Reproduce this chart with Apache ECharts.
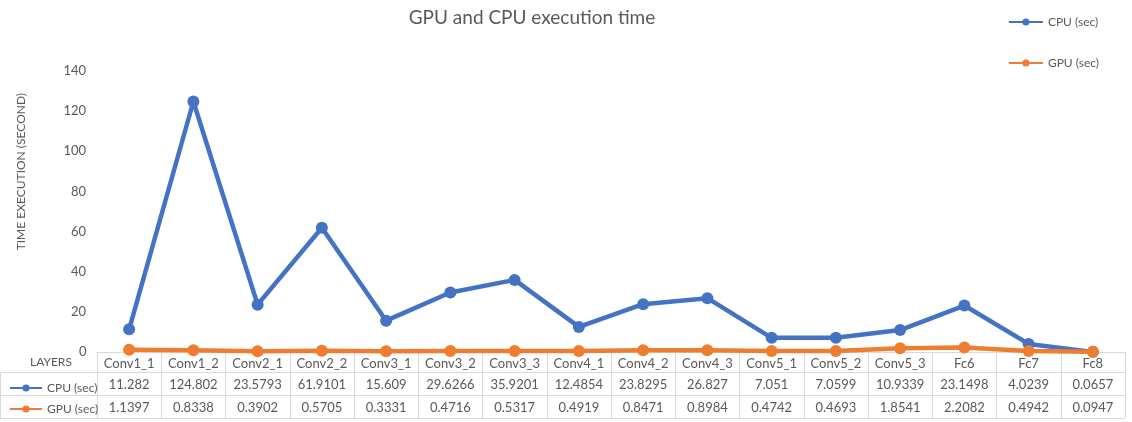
<!DOCTYPE html>
<html>
<head>
<meta charset="utf-8">
<script src="https://cdn.jsdelivr.net/npm/echarts@6/dist/echarts.min.js"></script>
<style>
  html, body { margin: 0; padding: 0; background: #fff; }
  #main { width: 1132px; height: 422px; }
</style>
</head>
<body>
<div id="main"></div>
<script>
// data
var layers = ['Conv1_1', 'Conv1_2', 'Conv2_1', 'Conv2_2', 'Conv3_1', 'Conv3_2', 'Conv3_3', 'Conv4_1', 'Conv4_2',
    'Conv4_3', 'Conv5_1', 'Conv5_2', 'Conv5_3', 'Fc6', 'Fc7', 'Fc8'];
var cpuSec = [11.282, 124.802, 23.5793, 61.9101, 15.609, 29.6266, 35.9201, 12.4854, 23.8295,
    26.827, 7.051, 7.0599, 10.9339, 23.1498, 4.0239, 0.0657];
var gpuSec = [1.1397, 0.8338, 0.3902, 0.5705, 0.3331, 0.4716, 0.5317, 0.4919, 0.8471,
    0.8984, 0.4742, 0.4693, 1.8541, 2.2082, 0.4942, 0.0947];
var yTicks = [0, 20, 40, 60, 80, 100, 120, 140];

var FONT = 'Lato';
var TXT = '#595959';
var BORDER = '#d9d9d9';
var CPU_COLOR = '#4472c4';
var GPU_COLOR = '#ed7d31';

var chart = echarts.init(document.getElementById('main'));

function tableAxis(data, offset, showTicks) {
    return {
        type: 'category',
        data: data,
        position: 'bottom',
        offset: offset,
        boundaryGap: true,
        axisLine: { show: offset === 0, lineStyle: { color: BORDER, width: 1 } },
        axisTick: { show: showTicks, length: 66, lineStyle: { color: BORDER } },
        axisLabel: { color: TXT, fontFamily: FONT, fontSize: 13, margin: 5, interval: 0 },
        splitLine: { show: false }
    };
}

var option = {
    backgroundColor: '#fff',
    textStyle: { fontFamily: FONT },
    title: {
        text: 'GPU and CPU execution time',
        left: 527,
        textAlign: 'center',
        top: 3,
        textStyle: { color: TXT, fontFamily: FONT, fontSize: 19, fontWeight: 'normal' }
    },
    legend: [{
        orient: 'vertical',
        right: 28,
        top: 11,
        itemGap: 29,
        itemWidth: 34,
        itemHeight: 9,
        textStyle: { color: TXT, fontFamily: FONT, fontSize: 12 },
        data: ['CPU (sec)', 'GPU (sec)']
    }, {
        orient: 'vertical',
        left: 4,
        top: 377,
        itemGap: 9,
        itemWidth: 32,
        itemHeight: 9,
        selectedMode: false,
        textStyle: { color: TXT, fontFamily: FONT, fontSize: 12 },
        data: ['CPU (sec)', 'GPU (sec)']
    }],
    grid: { left: 97, right: 7, top: 71, bottom: 70, containLabel: false },
    xAxis: [
        tableAxis(layers, 0, true),
        tableAxis(cpuSec.map(String), 21, false),
        tableAxis(gpuSec.map(String), 44, false)
    ],
    yAxis: {
        type: 'value',
        min: yTicks[0],
        max: yTicks[yTicks.length - 1],
        interval: yTicks[1] - yTicks[0],
        axisLine: { show: false },
        axisTick: { show: false },
        splitLine: { show: false },
        axisLabel: { color: TXT, fontFamily: FONT, fontSize: 13, margin: 11, showMinLabel: false }
    },
    graphic: [
        { type: 'text', left: 15, top: 93, rotation: Math.PI / 2,
          style: { text: 'TIME EXECUTION (SECOND)', fill: TXT, font: '12px ' + FONT } },
        { type: 'text', left: 30, top: 356, style: { text: 'LAYERS', fill: TXT, font: '12px ' + FONT } },
        // lowest tick label, written by hand because the axis drops it next to the table
        { type: 'text', left: 79, top: 345, style: { text: yTicks[0] + '', fill: TXT, font: '13px ' + FONT } },
        { type: 'line', shape: { x1: 0, y1: 372.5, x2: 1125, y2: 372.5 }, style: { stroke: BORDER, lineWidth: 1 } },
        { type: 'line', shape: { x1: 0, y1: 395.5, x2: 1125, y2: 395.5 }, style: { stroke: BORDER, lineWidth: 1 } },
        { type: 'line', shape: { x1: 0, y1: 418.5, x2: 1125, y2: 418.5 }, style: { stroke: BORDER, lineWidth: 1 } },
        { type: 'line', shape: { x1: 0.5, y1: 372, x2: 0.5, y2: 418 }, style: { stroke: BORDER, lineWidth: 1 } }
    ],
    series: [{
        name: 'CPU (sec)',
        type: 'line',
        data: cpuSec,
        color: CPU_COLOR,
        symbol: 'circle',
        symbolSize: 12,
        lineStyle: { width: 4.5 },
        z: 3
    }, {
        name: 'GPU (sec)',
        type: 'line',
        data: gpuSec,
        color: GPU_COLOR,
        symbol: 'circle',
        symbolSize: 12,
        lineStyle: { width: 4.5 },
        z: 4
    }]
};

chart.setOption(option);
</script>
</body>
</html>
